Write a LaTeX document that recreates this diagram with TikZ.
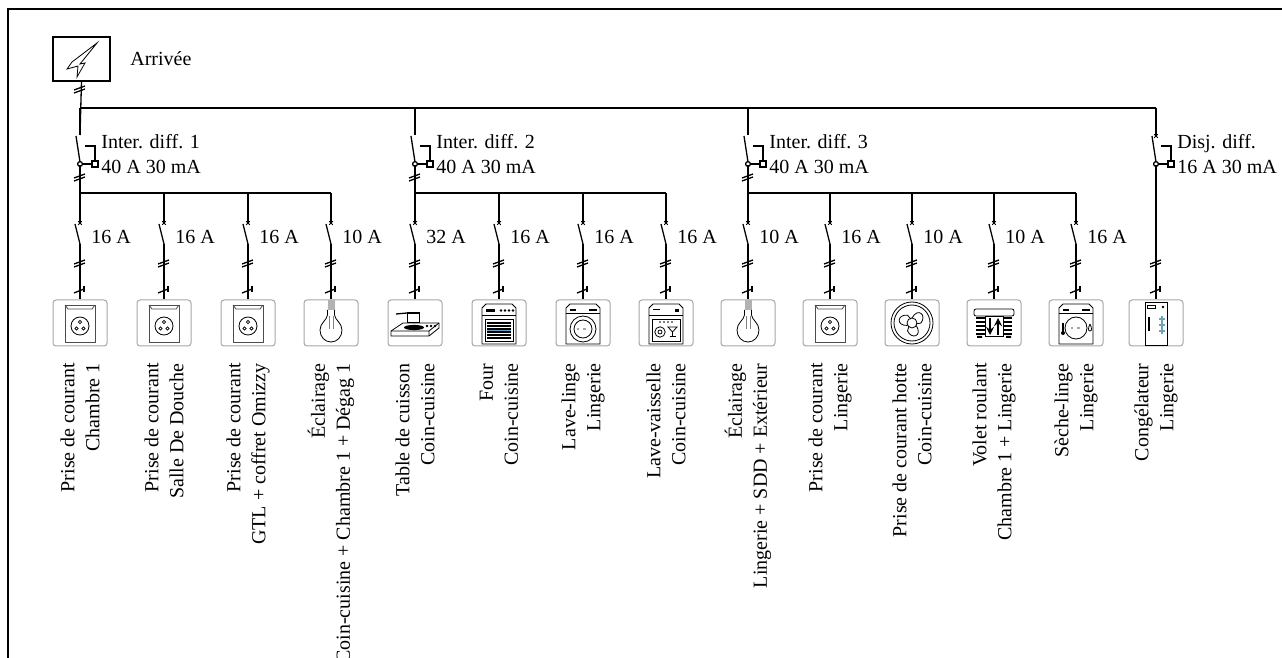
\documentclass[tikz,border=0pt]{standalone}
\usepackage{fontspec}
\setmainfont{Liberation Serif}
\usetikzlibrary{positioning,arrows}

\tikzset{
  wire/.style={line width=0.65pt},
  fin/.style={line width=0.4pt},
  appareil/.style={draw=gray!70, line width=0.5pt, rounded corners=1.5pt,
    minimum width=27pt, minimum height=23pt, inner sep=0pt},
  circuit/.style={rotate=90, anchor=east, align=right, inner sep=0pt},
  calibre/.style={anchor=west, inner sep=0pt}
}

% coupure (double barre)
\newcommand{\coupure}[2]{%
  \draw[wire] (#1-6,#2+2) -- (#1+5,#2-2);
  \draw[wire] (#1-6,#2+5) -- (#1+5,#2+1);}
% marque avant l'appareil
\newcommand{\marque}[2]{%
  \draw[wire] (#1-6,#2+3) -- (#1+4,#2-1);
  \draw[wire] (#1+4,#2-4) -- (#1+4,#2+2);}
% petite croix du disjoncteur
\newcommand{\croix}[2]{%
  \draw[fin] (#1-1.8,#2-1.8) -- (#1+1.8,#2+1.8) (#1-1.8,#2+1.8) -- (#1+1.8,#2-1.8);}
% organe differentiel
\newcommand{\diffsw}[2]{%
  \draw[wire] (#1-4,136) -- (#1,162);
  \draw[wire] (#1,164) circle (1.2pt);
  \draw[wire] (#1+2.5,164) -- (#1+12,164);
  \draw[wire] (#1+12,161) rectangle (#1+18,167);
  \draw[wire] (#1+5,146) -- (#1+15,146) -- (#1+15,161);
  \node[anchor=north west, inner sep=0pt, align=left] at (#1+21,134) {#2};}

% icones
\newcommand{\icprise}{%
  \draw[fin, gray!60!black] (-15,-18) rectangle (15,19);
  \draw[fin, gray!60!black] (-15,-18) -- (-12,-14) -- (12,-14) -- (15,-18);
  \draw[fin] (0,3) circle (4.5pt);
  \foreach \p in {(0,-1),(-3.5,5.5),(3.5,5.5)} \draw[fin] \p circle (0.8pt);}
\newcommand{\icampoule}{%
  \fill[gray!60] (-3.5,-23) rectangle (3.5,-13);
  \draw[fin] (-3.5,-13) -- (-3.5,-8) .. controls (-4,-3) and (-11,0) .. (-11,7)
    .. controls (-11,14) and (-6,19) .. (0,19) .. controls (6,19) and (11,14) .. (11,7)
    .. controls (11,0) and (4,-3) .. (3.5,-8) -- (3.5,-13);
  \draw[very thin, gray] (-2,-7) -- (-2,6) (2,-7) -- (2,6);}
\newcommand{\icplaque}{%
  \draw[fin] (-24,8) -- (-12,0) -- (24,0) -- (24,5) -- (14,13) -- (-24,13) -- cycle;
  \draw[fin] (-24,8) -- (14,8) -- (24,0) (14,8) -- (14,13);
  \fill (-1,4.5) ellipse (5pt and 1.3pt);
  \foreach \u in {12,16,20} \fill (\u,3) circle (0.7pt);
  \draw[fin, fill=white] (-8,-11) rectangle (4,-1);
  \fill (-8,-11) rectangle (4,-9);
  \draw[wire] (-8,-10) -- (-19,-9);}
\newcommand{\icfour}{%
  \draw[fin] (-17,-15) -- (-13,-19) -- (13,-19) -- (17,-15) -- (17,21) -- (-17,21) -- cycle;
  \draw[fin] (-17,-8) -- (17,-8);
  \draw[fin] (-14,-4) rectangle (14,18);
  \fill (-13,-14) rectangle (-4,-11);
  \foreach \u in {2,6,10,14} \fill (\u,-12.5) circle (0.7pt);
  \foreach \v in {0,3,...,15} \draw[line width=0.6pt] (-12,\v) -- (12,\v);
  \draw[line width=0.6pt, cyan!50!gray] (-12,7.5) -- (12,7.5);}
\newcommand{\iclavel}{%
  \draw[fin] (-17,-15) -- (-13,-19) -- (13,-19) -- (17,-15) -- (17,21) -- (-17,21) -- cycle;
  \draw[fin] (-17,-10) -- (17,-10);
  \fill (-13,-14) rectangle (-7,-12);
  \fill (6,-14) rectangle (14,-12);
  \draw[fin] (0,6) circle (6.5pt);
  \draw[fin] (0,6) circle (4.5pt);
  \draw[line width=1.2pt, gray!70, dotted] (-6,6) -- (6,6);}
\newcommand{\iclavev}{%
  \draw[fin] (-17,-15) -- (-13,-19) -- (13,-19) -- (17,-15) -- (17,21) -- (-17,21) -- cycle;
  \draw[fin] (-17,-8) -- (17,-8);
  \fill (-13,-14) rectangle (-6,-12.5);
  \fill (9,-14) rectangle (13,-11);
  \draw[fin] (-14,-4) rectangle (14,18);
  \foreach \u in {-6,-2,2,6} \fill (\u,-1) circle (0.4pt);
  \draw[fin] (-6,9) circle (2.6pt);
  \draw[fin] (-6,9) circle (1pt);
  \draw[fin] (2,4) -- (11,4) -- (6.5,9) -- cycle;
  \draw[fin] (6.5,9) -- (6.5,13) (3.5,13) -- (9.5,13);}
\newcommand{\icventil}{%
  \draw[fin] (0,0) circle (10.5pt);
  \draw[fin] (0,0) circle (9pt);
  \draw[fin] (0,0) circle (2.5pt);
  \foreach \a in {0,120,240}
    \draw[fin, rotate=\a] (0,-5) .. controls (6,-16) and (15,-8) .. (9,0) -- (4,1);}
\newcommand{\icvolet}{%
  \draw[fin, rounded corners=1pt] (-20,-14) rectangle (20,-7);
  \foreach \v in {-6,-2,...,10} \fill (-18,\v) rectangle (18,\v+2.5);
  \fill[white] (-9,-7) rectangle (9,13);
  \draw[fin] (-9,-7) rectangle (9,13);
  \draw[line width=0.8pt, -stealth] (-4,-5) -- (-4,12);
  \draw[line width=0.8pt, -stealth] (4,12) -- (4,-5);
  \fill (-17,13) rectangle (-12,15) (12,13) rectangle (17,15);}
\newcommand{\icseche}{%
  \draw[fin] (-17,-15) -- (-13,-19) -- (13,-19) -- (17,-15) -- (17,21) -- (-17,21) -- cycle;
  \draw[fin] (-17,-10) -- (17,-10);
  \fill (-13,-14) rectangle (-7,-12);
  \fill (6,-14) rectangle (14,-12);
  \draw[fin] (0,5) circle (5.5pt);
  \draw[line width=1.2pt, gray!70, dotted] (-5,5) -- (5,5);
  \draw[wire] (-13,0) -- (-13,9);
  \fill (-13,10) circle (1pt);
  \draw[fin] (14,1) .. controls (12,5) and (12,8) .. (14,8) .. controls (16,8) and (16,5) .. (14,1);}
\newcommand{\iccongel}{%
  \draw[fin] (-11,-21) rectangle (11,22);
  \draw[fin] (-9,-18) rectangle (-1,-15);
  \fill (7,-16) circle (0.7pt);
  \fill (-8,-6) rectangle (-6.5,8);
  \foreach \v in {-4,2,8}
    \draw[line width=0.8pt, cyan!40!gray] (3,\v) -- (9,\v) (6,\v-3) -- (6,\v+3);}

\begin{document}
\begin{tikzpicture}[x=0.5pt, y=-0.5pt, font=\fontsize{10}{12.5}\selectfont]
\useasboundingbox (0,0) rectangle (1282,658);
% cadre
\draw[line width=0.8pt] (8,658) -- (8,9) -- (1282,9);

% arrivee
\node[draw, wire, minimum width=28.5pt, minimum height=22pt, inner sep=0pt] (arrivee) at (81.5,59) {};
\draw[fin] (97,43) -- (72,62) -- (67,69) -- (78,66) -- (77,77) -- (85,63) -- (80,64) -- cycle;
\node[anchor=base west, inner sep=0pt] (tarrivee) at (130,66) {Arriv\'ee};
\coordinate (bus1) at (80,108);
\coordinate (bus4) at (1156,108);
\draw[wire] (arrivee.south) -- (80,135);
\coupure{80}{88}
\draw[wire] (bus1) -- (bus4);

% differentiels
\foreach \x/\t in {80/{Inter. diff. 1\\40 A 30 mA}, 415/{Inter. diff. 2\\40 A 30 mA}, 748/{Inter. diff. 3\\40 A 30 mA}}{
  \draw[wire] (\x,108) -- (\x,135);
  \diffsw{\x}{\t}
  \draw[wire] (\x,165.2) -- (\x,193);
  \coupure{\x}{176}
}
\draw[wire] (80,193) -- (331,193);
\draw[wire] (415,193) -- (666,193);
\draw[wire] (748,193) -- (1076,193);

% departs
\foreach \x/\r/\ic/\txt [count=\i] in {
  80/16/prise/{Prise de courant\\Chambre 1},
  164/16/prise/{Prise de courant\\Salle De Douche},
  248/16/prise/{Prise de courant\\GTL + coffret Omizzy},
  331/10/ampoule/{\'Eclairage\\Coin-cuisine + Chambre 1 + D\'egag 1},
  415/32/plaque/{Table de cuisson\\Coin-cuisine},
  499/16/four/{Four\\Coin-cuisine},
  583/16/lavel/{Lave-linge\\Lingerie},
  666/16/lavev/{Lave-vaisselle\\Coin-cuisine},
  748/10/ampoule/{\'Eclairage\\Lingerie + SDD + Ext\'erieur},
  830/16/prise/{Prise de courant\\Lingerie},
  912/10/ventil/{Prise de courant hotte\\Coin-cuisine},
  994/10/volet/{Volet roulant\\Chambre 1 + Lingerie},
  1076/16/seche/{S\`eche-linge\\Lingerie}}{
  \coordinate (t\i) at (\x,193);
  \node[appareil] (ic\i) at (\x,323) {};
  \draw[wire] (t\i) -- (\x,222);
  \croix{\x}{223}
  \draw[wire] (\x-5,224) -- (\x,244);
  \draw[wire] (\x,244) -- (ic\i.north);
  \coupure{\x}{262}
  \marque{\x}{290}
  \node[calibre] at (\x+11,236.5) {\r~A};
  \node[circuit] (l\i) at (\x,363) {\txt};
  \begin{scope}[shift={(ic\i.center)}]
    \csname ic\ic\endcsname
  \end{scope}
}

% disjoncteur differentiel
\node[appareil] (ic14) at (1156,323) {};
\draw[wire] (bus4) -- (1156,135);
\croix{1156}{136}
\diffsw{1156}{Disj. diff.\\16 A 30 mA}
\draw[wire] (1156,165.2) -- (ic14.north);
\coupure{1156}{262}
\marque{1156}{290}
\begin{scope}[shift={(ic14.center)}]
  \iccongel
\end{scope}
\node[circuit] (l14) at (1156,363) {Cong\'elateur\\Lingerie};
\end{tikzpicture}
\end{document}
